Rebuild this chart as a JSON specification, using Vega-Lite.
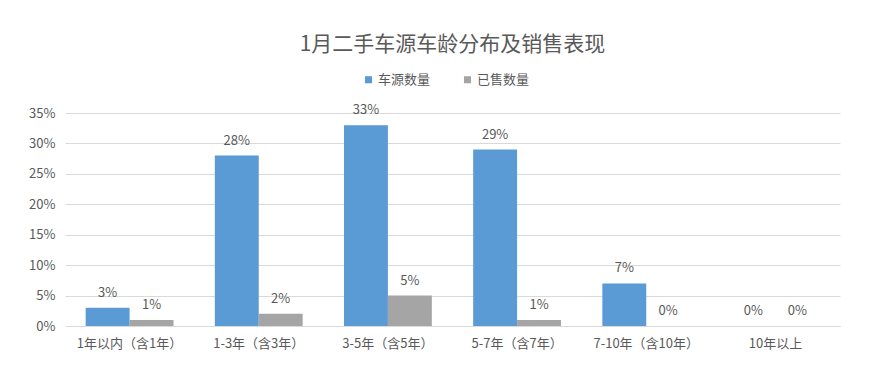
{
  "$schema": "https://vega.github.io/schema/vega-lite/v6.json",
  "width": 775,
  "height": 213,
  "autosize": "none",
  "padding": {"left": 65, "top": 113, "right": 45, "bottom": 54},
  "background": "white",
  "title": {
    "text": "1月二手车源车龄分布及销售表现",
    "fontSize": 21,
    "font": "Noto Sans CJK SC",
    "fontWeight": "normal",
    "color": "#595959",
    "offset": 18,
    "anchor": "middle"
  },
  "data": {
    "values": [
      {"age": "1年以内（含1年）", "series": "车源数量", "v": 0.03},
      {"age": "1年以内（含1年）", "series": "已售数量", "v": 0.01},
      {"age": "1-3年（含3年）", "series": "车源数量", "v": 0.28},
      {"age": "1-3年（含3年）", "series": "已售数量", "v": 0.02},
      {"age": "3-5年（含5年）", "series": "车源数量", "v": 0.33},
      {"age": "3-5年（含5年）", "series": "已售数量", "v": 0.05},
      {"age": "5-7年（含7年）", "series": "车源数量", "v": 0.29},
      {"age": "5-7年（含7年）", "series": "已售数量", "v": 0.01},
      {"age": "7-10年（含10年）", "series": "车源数量", "v": 0.07},
      {"age": "7-10年（含10年）", "series": "已售数量", "v": 0.0},
      {"age": "10年以上", "series": "车源数量", "v": 0.0},
      {"age": "10年以上", "series": "已售数量", "v": 0.0}
    ]
  },
  "encoding": {
    "x": {
      "field": "age",
      "type": "nominal",
      "sort": null,
      "scale": {"paddingInner": 0.32, "paddingOuter": 0.16},
      "axis": {
        "title": null,
        "labelAngle": 0,
        "labelFont": "Noto Sans CJK SC",
        "labelFontSize": 13,
        "labelColor": "#595959",
        "labelPadding": 11,
        "ticks": false,
        "domainColor": "#d9d9d9",
        "domainWidth": 1
      }
    },
    "xOffset": {"field": "series", "type": "nominal", "sort": ["车源数量", "已售数量"]},
    "y": {
      "field": "v",
      "type": "quantitative",
      "scale": {"domain": [0, 0.35], "nice": false},
      "axis": {
        "title": null,
        "values": [0, 0.05, 0.1, 0.15, 0.2, 0.25, 0.3, 0.35],
        "format": ".0%",
        "labelFont": "Noto Sans CJK SC",
        "labelFontSize": 13,
        "labelColor": "#595959",
        "labelPadding": 10,
        "domain": false,
        "ticks": false,
        "grid": true,
        "gridColor": "#d9d9d9",
        "gridWidth": 1
      }
    }
  },
  "layer": [
    {
      "mark": {"type": "bar"},
      "encoding": {
        "color": {
          "field": "series",
          "type": "nominal",
          "sort": ["车源数量", "已售数量"],
          "scale": {"domain": ["车源数量", "已售数量"], "range": ["#5B9BD5", "#A5A5A5"]},
          "legend": {
            "title": null,
            "orient": "none",
            "legendX": 297,
            "legendY": -40,
            "direction": "horizontal",
            "symbolType": "square",
            "symbolSize": 50,
            "symbolStrokeWidth": 0,
            "labelFont": "Noto Sans CJK SC",
            "labelFontSize": 13,
            "labelColor": "#595959",
            "labelOffset": 3,
            "columnPadding": 30
          }
        }
      }
    },
    {
      "mark": {
        "type": "text",
        "baseline": "bottom",
        "dy": -8,
        "font": "Noto Sans CJK SC",
        "fontSize": 13,
        "color": "#595959"
      },
      "encoding": {
        "text": {"field": "v", "type": "quantitative", "format": ".0%"}
      }
    }
  ],
  "config": {"view": {"stroke": null}}
}
